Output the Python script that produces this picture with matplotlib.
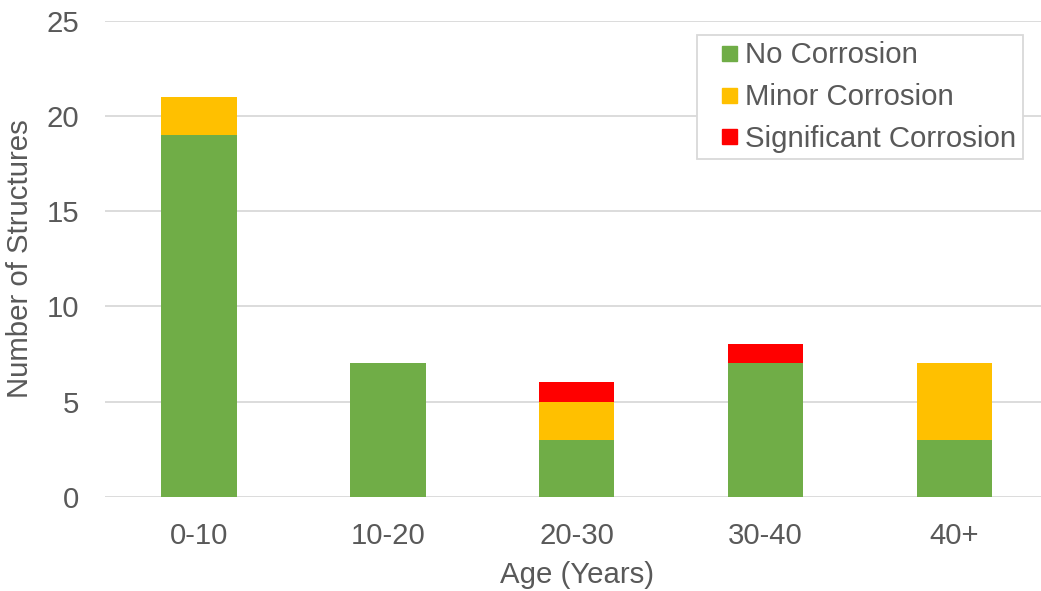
import matplotlib
matplotlib.use("Agg")
import matplotlib.pyplot as plt
from matplotlib.lines import Line2D
import numpy as np

plt.rcParams['font.family'] = ['Liberation Sans', 'DejaVu Sans']

categories = ["0-10", "10-20", "20-30", "30-40", "40+"]
no_corrosion = [19, 7, 3, 7, 3]
minor_corrosion = [2, 0, 2, 0, 4]
significant_corrosion = [0, 0, 1, 1, 0]
series_names = ["No Corrosion", "Minor Corrosion", "Significant Corrosion"]
yticks = [0, 5, 10, 15, 20, 25]

colors = ["#70AD47", "#FFC000", "#FF0000"]
text_color = "#595959"
grid_color = "#D9D9D9"
fs = 21.2

fig = plt.figure(figsize=(10.41, 5.91), dpi=100)
ax = fig.add_axes([0.1005, 0.1596, 0.907, 0.805])

x = np.arange(len(categories))
bottom = np.zeros(len(categories))
for vals, col, name in zip([no_corrosion, minor_corrosion, significant_corrosion], colors, series_names):
    ax.bar(x, vals, width=0.4, bottom=bottom, color=col, label=name, zorder=3)
    bottom += np.array(vals)

ax.set_xlim(-0.5, len(categories) - 0.5)
ax.set_ylim(0, 25)
ax.set_yticks(yticks)
ax.set_xticks(x)
ax.set_xticklabels(categories)
ax.yaxis.grid(True, color=grid_color, linewidth=1.3, zorder=0)
ax.set_axisbelow(True)
for s in ax.spines.values():
    s.set_visible(False)
ax.tick_params(axis='both', length=0, labelsize=fs, colors=text_color, pad=18)
ax.tick_params(axis='y', pad=18)

ax.set_xlabel("Age (Years)", fontsize=fs, color=text_color, labelpad=8)
ax.set_ylabel("Number of Structures", fontsize=fs, color=text_color, labelpad=9)

handles = [Line2D([], [], linestyle='none', marker='s', markersize=10.8,
                  markerfacecolor=c, markeredgecolor=c) for c in colors]
leg = ax.legend(handles, series_names, loc='upper left',
                bbox_to_anchor=(697 / 1041, 1 - 35 / 591), bbox_transform=fig.transFigure,
                fontsize=fs, frameon=True, fancybox=False, framealpha=1,
                edgecolor=grid_color, borderpad=0.22, labelspacing=0.46,
                handlelength=1.7, handletextpad=-0.28, borderaxespad=0)
leg.get_frame().set_linewidth(1.3)
for t in leg.get_texts():
    t.set_color(text_color)

fig.savefig("out.png", dpi=100, facecolor="white")
